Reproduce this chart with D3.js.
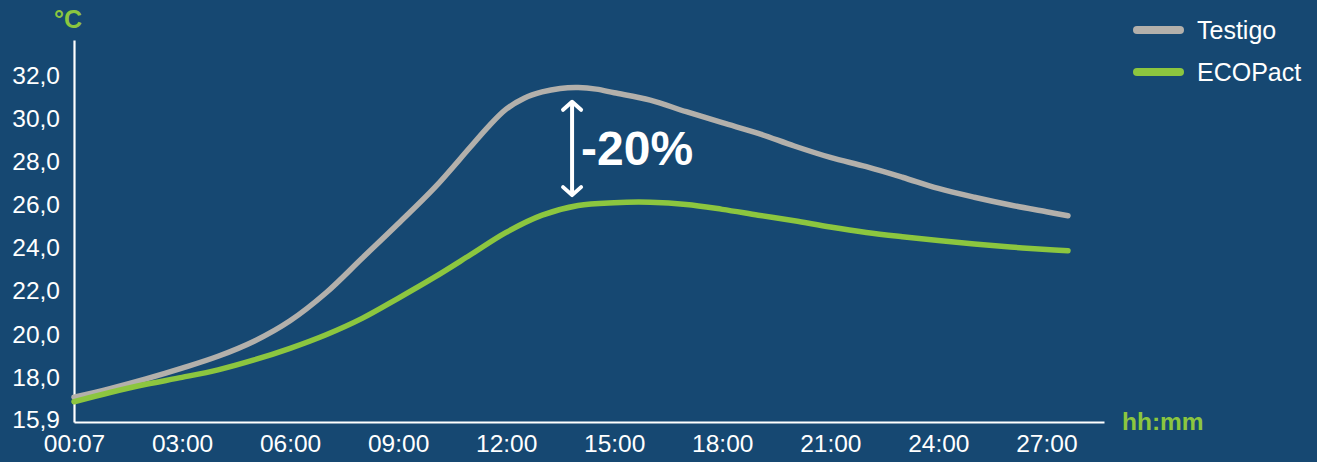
<!DOCTYPE html>
<html>
<head>
<meta charset="utf-8">
<script src="https://cdn.jsdelivr.net/npm/d3@7"></script>
<style>
  html, body { margin: 0; padding: 0; background: #164872; }
  svg { display: block; }
  text { font-family: "Liberation Sans", Arial, sans-serif; }
</style>
</head>
<body>
<svg id="chart" width="1317" height="462"></svg>
<script>
// ---- data ----
const hours = [0,1,2,3,4,5,6,7,8,9,10,11,11.5,12,12.5,13,13.5,14,14.5,15,16,17,18,19,20,21,22,23,24,25,26,27,27.6];
const testigo = [17.05,17.45,17.9,18.4,18.95,19.65,20.6,21.9,23.5,25.1,26.75,28.65,29.6,30.42,30.93,31.22,31.38,31.42,31.35,31.18,30.84,30.3,29.79,29.3,28.71,28.18,27.75,27.26,26.74,26.33,25.97,25.66,25.47];
const ecopactHours = [0,1,2,3,4,5,6,7,8,9,10,11,12,13,14,15,16,17,18,19,20,21,22,23,24,25,26,27,27.6];
const ecopact = [16.84,17.27,17.65,17.97,18.32,18.78,19.32,19.95,20.71,21.64,22.61,23.65,24.7,25.5,25.95,26.08,26.1,26.0,25.77,25.5,25.24,24.95,24.7,24.5,24.32,24.16,24.02,23.91,23.85];
const seriesNames = ["Testigo", "ECOPact"];
const seriesColors = ["#b3b0ab", "#8cc63f"];
const xTickValues = [0,3,6,9,12,15,18,21,24,27];
const xTickLabels = ["00:07","03:00","06:00","09:00","12:00","15:00","18:00","21:00","24:00","27:00"];
const yTickValues = [15.9,18,20,22,24,26,28,30,32];
const yTickLabels = ["15,9","18,0","20,0","22,0","24,0","26,0","28,0","30,0","32,0"];
const annotation = { hour: 13.83, top: 30.76, bottom: 26.43, label: "-20%" };
const yUnit = "°C";
const xUnit = "hh:mm";

// ---- layout ----
const svg = d3.select("#chart");
const x = d3.scaleLinear().domain([0, 28.6]).range([74, 1104]);
const y = d3.scaleLinear().domain([15.9, 33.63]).range([422, 40]);

// axes
const yAxis = d3.axisLeft(y).tickValues(yTickValues).tickSize(0).tickPadding(14)
  .tickFormat((d, i) => yTickLabels[i]);
const gy = svg.append("g").attr("transform", `translate(${x(0)},0)`).call(yAxis);
gy.select(".domain").attr("stroke", "#fff").attr("stroke-width", 2.2);
gy.selectAll("text").attr("fill", "#fff").attr("font-size", 24.5)
  .attr("font-family", "'Liberation Sans', Arial, sans-serif")
  .attr("dy", (d) => d === 15.9 ? "0.22em" : "0.34em");

const xAxis = d3.axisBottom(x).tickValues(xTickValues).tickSize(0).tickPadding(13)
  .tickFormat((d, i) => xTickLabels[i]);
const gx = svg.append("g").attr("transform", `translate(0,${y(15.9)})`).call(xAxis);
gx.select(".domain").attr("stroke", "#fff").attr("stroke-width", 2.2);
gx.selectAll("text").attr("fill", "#fff").attr("font-size", 24.5)
  .attr("font-family", "'Liberation Sans', Arial, sans-serif");

// unit labels
svg.append("text").attr("x", 54).attr("y", 28).attr("fill", "#8cc63f")
  .attr("font-size", 25).attr("font-weight", "bold").text(yUnit);
svg.append("text").attr("x", 1122).attr("y", y(15.9) + 8).attr("fill", "#8cc63f")
  .attr("font-size", 24.5).attr("font-weight", "bold").text(xUnit);

// lines
const line = d3.line().x(d => x(d[0])).y(d => y(d[1])).curve(d3.curveCatmullRom.alpha(0.5));
const data = [d3.zip(hours, testigo), d3.zip(ecopactHours, ecopact)];
data.forEach((pts, i) => {
  svg.append("path").datum(pts).attr("d", line)
    .attr("fill", "none").attr("stroke", seriesColors[i])
    .attr("stroke-width", 5.5).attr("stroke-linecap", "round").attr("stroke-linejoin", "round");
});

// legend
seriesNames.forEach((name, i) => {
  const ly = 30 + i * 42;
  svg.append("line").attr("x1", 1137).attr("x2", 1180).attr("y1", ly).attr("y2", ly)
    .attr("stroke", seriesColors[i]).attr("stroke-width", 8).attr("stroke-linecap", "round");
  svg.append("text").attr("x", 1197).attr("y", ly).attr("dy", "0.35em")
    .attr("fill", "#fff").attr("font-size", 25).text(name);
});

// annotation
const ax = x(annotation.hour), ay1 = y(annotation.top), ay2 = y(annotation.bottom);
const ag = svg.append("g").attr("stroke", "#fff").attr("stroke-width", 4)
  .attr("stroke-linecap", "round").attr("stroke-linejoin", "round").attr("fill", "none");
ag.append("line").attr("x1", ax).attr("x2", ax).attr("y1", ay1 + 1).attr("y2", ay2 - 1);
ag.append("path").attr("d", `M${ax - 9},${ay1 + 8} L${ax},${ay1} L${ax + 9},${ay1 + 8}`);
ag.append("path").attr("d", `M${ax - 9},${ay2 - 8} L${ax},${ay2} L${ax + 9},${ay2 - 8}`);
svg.append("text").attr("x", ax + 9).attr("y", (ay1 + ay2) / 2 + 17)
  .attr("fill", "#fff").attr("font-size", 48).attr("font-weight", "bold")
  .text(annotation.label);
</script>
</body>
</html>
